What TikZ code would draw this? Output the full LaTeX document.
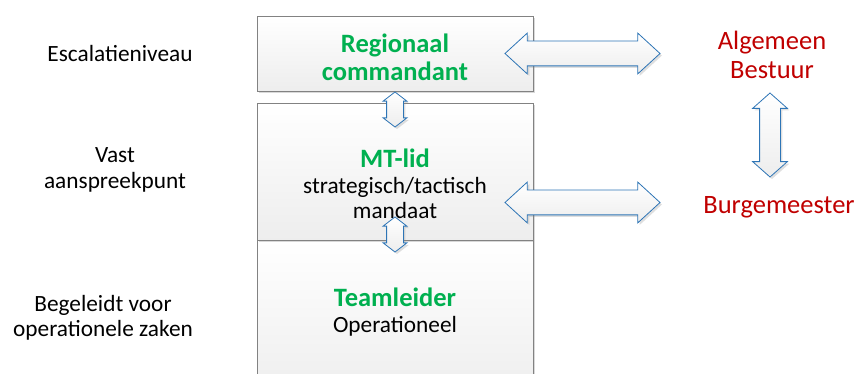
\documentclass[tikz,border=0pt]{standalone}
\usepackage{fontspec}
\setmainfont{Carlito}
\usetikzlibrary{shapes.arrows,shadows,positioning,calc}
\definecolor{rolgreen}{HTML}{00B050}
\definecolor{bestuurred}{HTML}{C00000}
\definecolor{pijlblauw}{HTML}{2E75B6}
\definecolor{randgrijs}{HTML}{828282}
\tikzset{
  every picture/.style={line width=0.75pt},
  laag/.style={draw=randgrijs, line width=0.9pt, top color=white, bottom color=gray!14,
    minimum width=276pt, inner sep=0pt,
    drop shadow={shadow xshift=2pt, shadow yshift=-2pt, opacity=0.3}},
  blokpijl/.style={double arrow, draw=pijlblauw, line width=0.8pt,
    top color=white, bottom color=gray!14,
    drop shadow={shadow xshift=2pt, shadow yshift=-2pt, opacity=0.25}},
  rol/.style={align=center, font=\fontsize{26.5}{28}\selectfont\bfseries, text=rolgreen},
  taak/.style={align=center, font=\fontsize{23.3}{25.5}\selectfont},
  bestuur/.style={align=center, font=\fontsize{26.5}{29}\selectfont, text=bestuurred},
}
\begin{document}
\begin{tikzpicture}[x=1pt, y=-1pt]
    \useasboundingbox (0,0) rectangle (862,374);
    \clip (0,0) rectangle (862,374);

    % lagen van de organisatie
    \node[laag, minimum height=160pt] (team) at (395,320) {};
    \node[laag, minimum height=137pt] (mt) at (395,171.5) {};
    \node[laag, minimum height=75pt] (rc) at (395,53.5) {};

    % teksten in de lagen
    \node[rol] (rctekst) at (395,57) {Regionaal\\commandant};
    \node[taak] (mttekst) at (395,184) {{\fontsize{26.5}{28}\selectfont\bfseries\color{rolgreen}MT-lid}\\strategisch/tactisch\\mandaat};
    \node[taak] (teamtekst) at (395,312) {{\fontsize{26.5}{28}\selectfont\bfseries\color{rolgreen}Teamleider}\\Operationeel};

    % niveaus links
    \node[taak] (escalatie) at (120,53) {Escalatieniveau};
    \node[taak] (vast) at (115,170) {Vast\\aanspreekpunt};
    \node[taak] (begeleid) at (103,318) {Begeleidt voor\\operationele zaken};

    % bestuur rechts
    \node[bestuur] (ab) at (772,55) {Algemeen\\Bestuur};
    \node[bestuur] (bm) at (779,207) {Burgemeester};

    % pijlen tussen de lagen
    \node[blokpijl, shape border rotate=90, inner sep=8pt, minimum height=35pt,
      double arrow head extend=3.5pt, double arrow tip angle=105] (p1) at (395,109.5) {};
    \node[blokpijl, shape border rotate=90, inner sep=8pt, minimum height=35pt,
      double arrow head extend=3.5pt, double arrow tip angle=105] (p2) at (395,234.5) {};

    % pijlen naar het bestuur
    \node[blokpijl, inner sep=12pt, minimum height=155pt,
      double arrow head extend=8pt, double arrow tip angle=85] (p3) at (582.5,53.5) {};
    \node[blokpijl, inner sep=12pt, minimum height=155pt,
      double arrow head extend=8pt, double arrow tip angle=85] (p4) at (582.5,202.5) {};
    \node[blokpijl, shape border rotate=90, inner sep=10pt, minimum height=84pt,
      double arrow head extend=7pt, double arrow tip angle=97] (p5) at (770,135) {};
\end{tikzpicture}
\end{document}
